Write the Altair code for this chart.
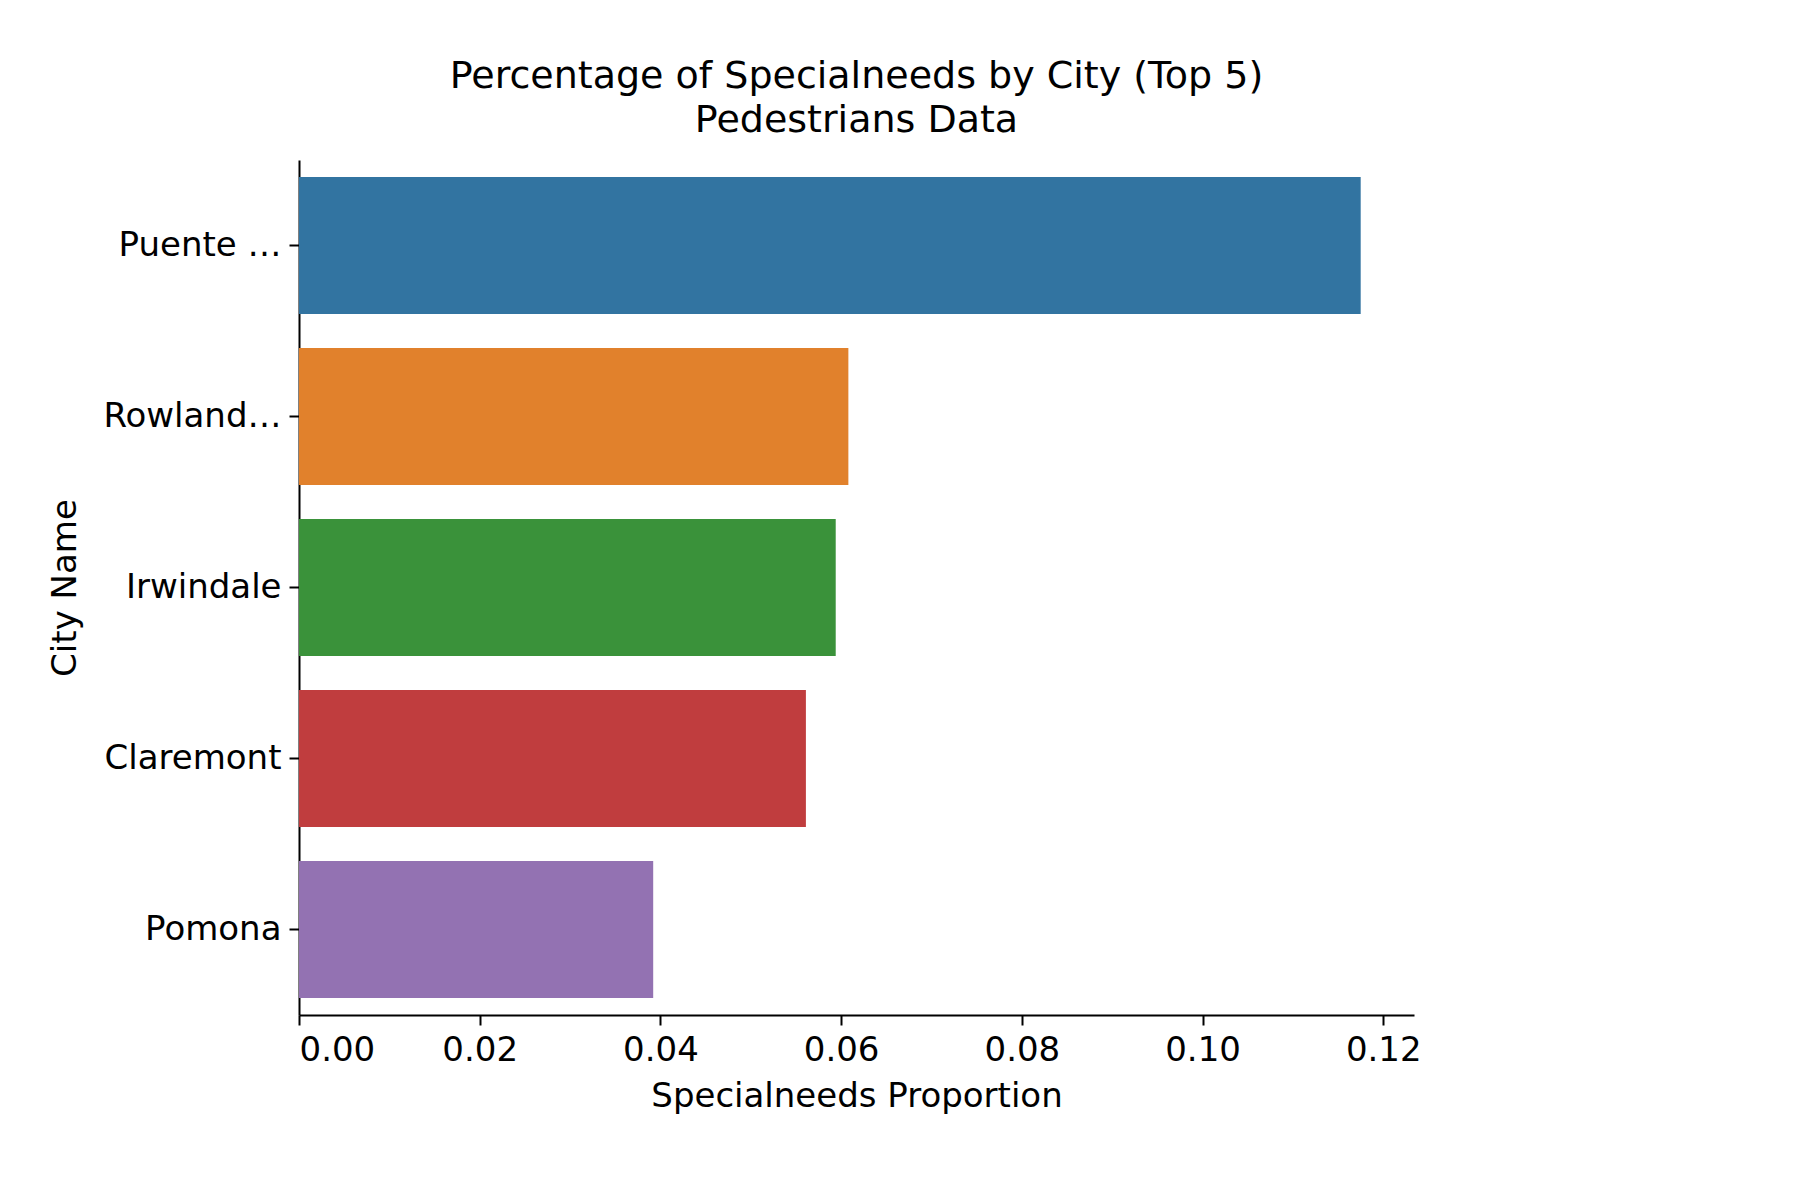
import pandas as pd
import altair as alt

cities = ["Puente Hills (Park Area)", "Rowland Heights", "Irwindale", "Claremont", "Pomona"]
values = [0.1175, 0.0608, 0.0594, 0.0561, 0.0392]
colors = ["#3274a1", "#e1812c", "#3a923a", "#c03d3e", "#9372b2"]

df = pd.DataFrame({"City Name": cities, "Specialneeds Proportion": values})

chart = alt.Chart(df).mark_bar().encode(
    y=alt.Y("City Name:N", sort=cities,
            scale=alt.Scale(paddingInner=0.2, paddingOuter=0.1),
            axis=alt.Axis(titlePadding=20)),
    x=alt.X("Specialneeds Proportion:Q",
            scale=alt.Scale(domain=[0, 0.1234], nice=False),
            axis=alt.Axis(values=[0, 0.02, 0.04, 0.06, 0.08, 0.1, 0.12], format=".2f",
                          titlePadding=12)),
    color=alt.Color("City Name:N", sort=cities,
                    scale=alt.Scale(domain=cities, range=colors), legend=None),
).properties(
    width=1115,
    height=855,
    title=alt.TitleParams(["Percentage of Specialneeds by City (Top 5)", "Pedestrians Data"],
                          fontSize=38, fontWeight="normal", font="DejaVu Sans",
                          color="black", lineHeight=44, offset=20),
).configure(
    background="white",
    padding={"left": 40, "top": 50, "right": 30, "bottom": 20},
).configure_view(
    strokeWidth=0
).configure_axis(
    grid=False,
    domainColor="black",
    domainWidth=2,
    tickColor="black",
    tickWidth=2,
    tickSize=10,
    labelFont="DejaVu Sans",
    titleFont="DejaVu Sans",
    labelFontSize=34,
    titleFontSize=34,
    titleFontWeight="normal",
    labelColor="black",
    titleColor="black",
    labelPadding=8,
)

chart.save("out.html", embed_options={"renderer": "svg", "actions": False})
